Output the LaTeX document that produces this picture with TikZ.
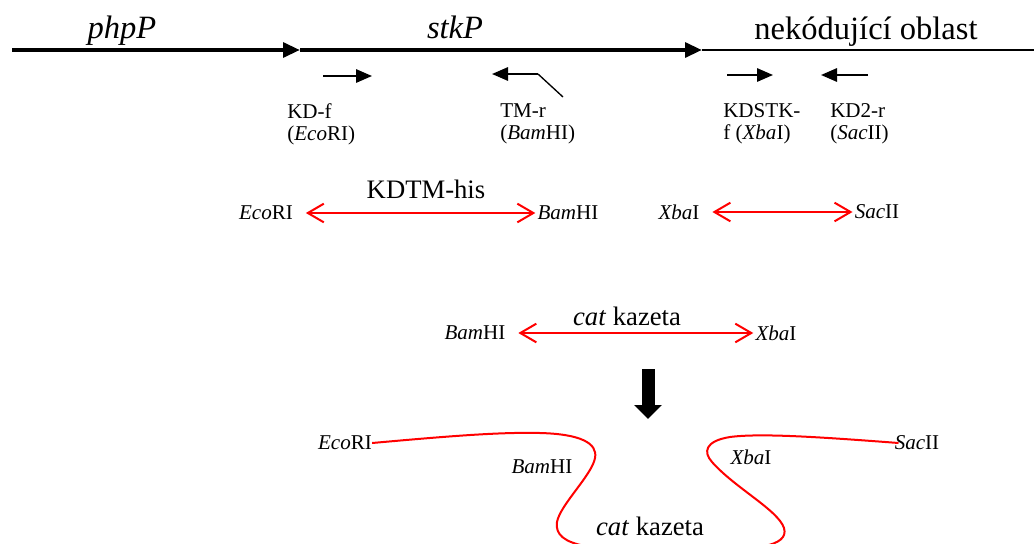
\documentclass[tikz,border=0pt]{standalone}
\usepackage{fontspec}
\setmainfont{Liberation Serif}
\usetikzlibrary{arrows.meta}
\begin{document}
\begin{tikzpicture}[x=0.75pt,y=-0.75pt,
		every node/.style={inner sep=0pt,font=\fontsize{15.8}{16.5}\selectfont},
		big/.style={font=\fontsize{24.4}{29}\selectfont},
		mid/.style={font=\fontsize{20}{24}\selectfont},
		primerlabel/.style={anchor=north west,align=left},
		gene/.style={line width=3pt,-{Triangle[length=12.75pt,width=11pt]}},
		primer/.style={line width=1.5pt,-{Triangle[length=12pt,width=10pt]}},
		site/.style={red,line width=1.5pt,{Straight Barb[length=12pt,width=14pt]}-{Straight Barb[length=12pt,width=14pt]},shorten <=9.5pt,shorten >=1.5pt},
		insert/.style={red,line width=1.5pt}]
		\useasboundingbox (0,0) rectangle (1034,543);

		% gene map
		\draw[gene] (12,50) -- (300,50);
		\draw[gene] (300,50) -- (702,50);
		\draw[line width=1pt] (702,50) -- (1034,50);
		\node[big,anchor=base] (php) at (122,38) {\textit{phpP}};
		\node[big,anchor=base] (stk) at (455,38) {\textit{stkP}};
		\node[big,anchor=base] (nek) at (866,39) {nekódující oblast};

		% primers
		\draw[primer] (323,76) -- (372,76);
		\draw[primer] (538,74) -- (492,74);
		\draw[line width=1pt] (538,74) -- (563,97);
		\draw[primer] (727,75) -- (773,75);
		\draw[primer] (868,75) -- (821,75);
		\foreach \px/\lbl in {287/{KD-f\\(\textit{Eco}RI)},500/{TM-r\\(\textit{Bam}HI)},723/{KDSTK-\\f (\textit{Xba}I)},830/{KD2-r\\(\textit{Sac}II)}}
			\node[primerlabel] (p\px) at (\px,103) {\lbl};

		% PCR products
		\node (ecoA) at (266,213) {\textit{Eco}RI};
		\node (bamA) at (568,213) {\textit{Bam}HI};
		\node[mid,anchor=base] (kdtm) at (426,198) {KDTM-his};
		\draw[site] (ecoA) -- (bamA);
		\node (xbaA) at (679,212) {\textit{Xba}I};
		\node (sacA) at (877,212) {\textit{Sac}II};
		\draw[site] (xbaA) -- (sacA);

		% cassette
		\node (bamB) at (475,333) {\textit{Bam}HI};
		\node (xbaB) at (776,333) {\textit{Xba}I};
		\node[mid,anchor=base] (catA) at (627,325) {\textit{cat} kazeta};
		\draw[site] (bamB) -- (xbaB);

		\coordinate (downtop) at (648,369);
		\coordinate (downtip) at (648,419);
		\draw[line width=9.75pt,-{Triangle[length=10.5pt,width=20pt]}] (downtop) -- (downtip);

		% ligation
		\node (ecoB) at (345,443) {\textit{Eco}RI};
		\node (sacB) at (917,443) {\textit{Sac}II};
		\node (bamC) at (542,467) {\textit{Bam}HI};
		\node (xbaC) at (751,457) {\textit{Xba}I};
		\node[mid,anchor=base] (catB) at (650,535) {\textit{cat} kazeta};
		\coordinate (endL) at (585,546);
		\coordinate (endR) at (765,546);
		\draw[insert] (ecoB.east) .. controls (450,436) and (500,432) .. (540,433)
			.. controls (580,434) and (598,443) .. (595,458)
			.. controls (592,475) and (560,505) .. (557,522)
			.. controls (555,535) and (565,542) .. (endL);
		\draw[insert] ([xshift=3pt]sacB.west) .. controls (820,437) and (760,433) .. (730,437)
			.. controls (705,441) and (703,452) .. (712,462)
			.. controls (735,488) and (778,510) .. (784,528)
			.. controls (787,538) and (778,543) .. (endR);
	\end{tikzpicture}
\end{document}
